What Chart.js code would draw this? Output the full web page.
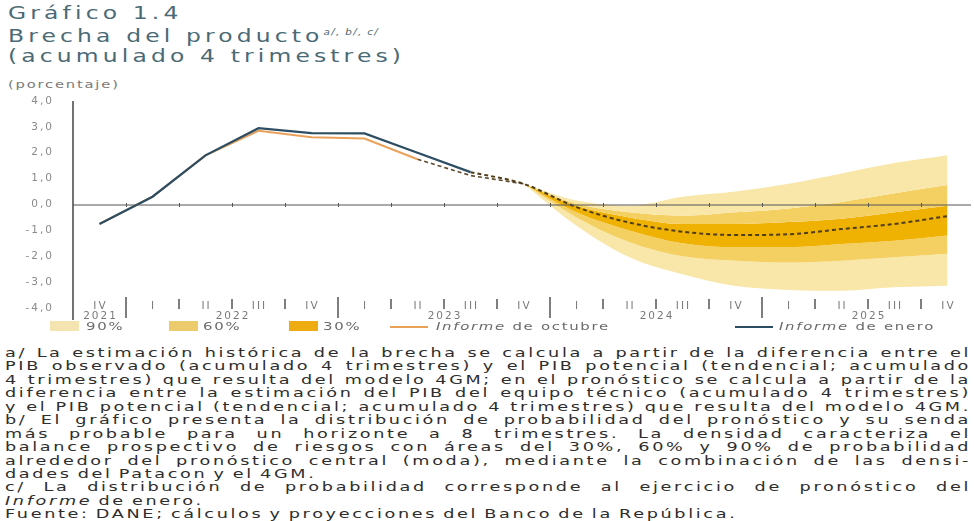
<!DOCTYPE html>
<html>
<head>
<meta charset="utf-8">
<script src="https://cdn.jsdelivr.net/npm/chart.js@4.4.1/dist/chart.umd.min.js"></script>
<style>
  html, body { margin: 0; padding: 0; background: #fff; }
  body { width: 974px; height: 521px; position: relative; overflow: hidden; font-family: "DejaVu Sans", sans-serif; }
  .title { position: absolute; left: 8px; top: 3px; color: #4a6a76; font-size: 18px; line-height: 20px; letter-spacing: 3.2px; transform: scaleX(1.3); transform-origin: 0 0; white-space: nowrap; }
  .title sup { font-size: 8px; font-style: italic; letter-spacing: 1px; vertical-align: 7px; }
  .unit { position: absolute; left: 8px; top: 78px; color: #7a7a7a; font-size: 10.5px; letter-spacing: 1.3px; transform: scaleX(1.4); transform-origin: 0 0; }
  #wrap { position: absolute; left: 0; top: 92px; width: 974px; height: 232px; }
  .leg { position: absolute; top: 319px; font-size: 10.5px; color: #6a6a6a; letter-spacing: 1.2px; line-height: 14px; transform: scaleX(1.42); transform-origin: 0 0; white-space: nowrap; }
  .sw { position: absolute; top: 321px; height: 10px; width: 29px; }
  .ln { position: absolute; top: 326px; height: 2px; width: 38px; }
  .notes { position: absolute; left: 5px; top: 346px; width: 690px; font-size: 12.6px; line-height: 13.45px; color: #2e2e2e; letter-spacing: 1.9px; word-spacing: -1.5px; transform: scaleX(1.4); transform-origin: 0 0; }
  .notes div { white-space: nowrap; }
  .notes .j { text-align: justify; text-align-last: justify; white-space: normal; height: 13.45px; overflow: hidden; }
</style>
</head>
<body>
<div class="title">Gráfico 1.4<br>Brecha del producto<sup>a/, b/, c/</sup><br>(acumulado 4 trimestres)</div>
<div class="unit">(porcentaje)</div>
<div id="wrap"><canvas id="myChart" width="974" height="232"></canvas></div>

<div class="sw" style="left:50px;background:#f4e5b0"></div><div class="leg" style="left:86px">90%</div>
<div class="sw" style="left:169px;background:#eccb6c"></div><div class="leg" style="left:203px">60%</div>
<div class="sw" style="left:289px;background:#eeab12"></div><div class="leg" style="left:323px">30%</div>
<div class="ln" style="left:390px;background:#e9a15a"></div><div class="leg" style="left:436px"><i>Informe</i> de octubre</div>
<div class="ln" style="left:735px;background:#2d4d63"></div><div class="leg" style="left:779px"><i>Informe</i> de enero</div>

<div class="notes">
  <div class="j">a/ La estimación histórica de la brecha se calcula a partir de la diferencia entre el</div>
  <div class="j">PIB observado (acumulado 4 trimestres) y el PIB potencial (tendencial; acumulado</div>
  <div class="j">4 trimestres) que resulta del modelo 4GM; en el pronóstico se calcula a partir de la</div>
  <div class="j">diferencia entre la estimación del PIB del equipo técnico (acumulado 4 trimestres)</div>
  <div class="j">y el PIB potencial (tendencial; acumulado 4 trimestres) que resulta del modelo 4GM.</div>
  <div class="j">b/ El gráfico presenta la distribución de probabilidad del pronóstico y su senda</div>
  <div class="j">más probable para un horizonte a 8 trimestres. La densidad caracteriza el</div>
  <div class="j">balance prospectivo de riesgos con áreas del 30%, 60% y 90% de probabilidad</div>
  <div class="j">alrededor del pronóstico central (moda), mediante la combinación de las densi-</div>
  <div>dades del Patacon y el 4GM.</div>
  <div class="j">c/ La distribución de probabilidad corresponde al ejercicio de pronóstico del</div>
  <div><i>Informe</i> de enero.</div>
  <div>Fuente: DANE; cálculos y proyecciones del Banco de la República.</div>
</div>

<script>
// quarters 2021 IV .. 2025 IV
var quarters = ['IV', 'I', 'II', 'III', 'IV', 'I', 'II', 'III', 'IV', 'I', 'II', 'III', 'IV', 'I', 'II', 'III', 'IV'];
var years = ['2021', '2022', '2022', '2022', '2022', '2023', '2023', '2023', '2023', '2024', '2024', '2024', '2024', '2025', '2025', '2025', '2025'];
var yTicks = [4, 3, 2, 1, 0, -1, -2, -3, -4];

var enero = [-0.75, 0.3, 1.9, 2.95, 2.76, 2.75, 2.0, 1.25, null, null, null, null, null, null, null, null, null];
var octubre = [-0.75, 0.3, 1.9, 2.85, 2.6, 2.55, 1.75, null, null, null, null, null, null, null, null, null, null];
var octubreProy = [null, null, null, null, null, null, 1.75, 1.12, 0.8, null, null, null, null, null, null, null, null];
var moda = [null, null, null, null, null, null, null, 1.25, 0.8, -0.1, -0.7, -1.05, -1.18, -1.15, -0.95, -0.75, -0.45];

// fan chart bands
var sup90 = [null, null, null, null, null, null, null, null, 0.8, 0.15, -0.05, 0.3, 0.5, 0.8, 1.2, 1.6, 1.9];
var sup60 = [null, null, null, null, null, null, null, null, 0.8, 0.03, -0.3, -0.43, -0.3, -0.15, 0.1, 0.43, 0.75];
var sup30 = [null, null, null, null, null, null, null, null, 0.8, -0.05, -0.5, -0.75, -0.75, -0.68, -0.55, -0.3, -0.05];
var inf30 = [null, null, null, null, null, null, null, null, 0.8, -0.3, -1.0, -1.5, -1.65, -1.65, -1.53, -1.4, -1.2];
var inf60 = [null, null, null, null, null, null, null, null, 0.8, -0.5, -1.46, -2.0, -2.17, -2.24, -2.17, -2.04, -1.9];
var inf90 = [null, null, null, null, null, null, null, null, 0.8, -0.82, -2.04, -2.7, -3.15, -3.3, -3.33, -3.2, -3.14];

var c90 = '#f8e7a8', c60 = '#f4cf62', c30 = '#efb102';

function band(data, color) {
    return {
        data: data,
        borderWidth: 0,
        pointRadius: 0,
        backgroundColor: color,
        fill: color ? '-1' : false,
        cubicInterpolationMode: 'monotone',
        order: 5
    };
}

var ejes = {
    id: 'ejes',
    afterDatasetsDraw: function (chart) {
        var ctx = chart.ctx, a = chart.chartArea, x = chart.scales.x, y = chart.scales.y;
        var y0 = y.getPixelForValue(0);
        ctx.save();
        ctx.strokeStyle = '#555';
        ctx.lineWidth = 1;
        ctx.beginPath();
        ctx.moveTo(a.left, y0 + 0.5);
        ctx.lineTo(a.right - 3, y0 + 0.5);
        ctx.stroke();
        for (var i = 0; i < quarters.length - 1; i++) {
            var bx = Math.round((x.getPixelForValue(i) + x.getPixelForValue(i + 1)) / 2) + 0.5;
            ctx.beginPath();
            ctx.moveTo(bx, y0 - 1.5);
            ctx.lineTo(bx, y0 + 2.5);
            ctx.stroke();
        }
        ctx.restore();
    },
    afterDraw: function (chart) {
        var ctx = chart.ctx, a = chart.chartArea, x = chart.scales.x, y = chart.scales.y;
        ctx.save();
        // eje vertical
        ctx.strokeStyle = '#444';
        ctx.lineWidth = 1.5;
        ctx.beginPath();
        ctx.moveTo(a.left, y.getPixelForValue(4));
        ctx.lineTo(a.left, a.bottom + 12);
        ctx.stroke();
        // etiquetas eje y
        ctx.font = '10.5px "DejaVu Sans"';
        ctx.letterSpacing = '2px';
        ctx.fillStyle = '#8a8a8a';
        ctx.textAlign = 'right';
        ctx.textBaseline = 'middle';
        yTicks.forEach(function (v) {
            ctx.fillText(v.toFixed(1).replace('.', ','), 54, y.getPixelForValue(v));
        });
        // trimestres
        ctx.textAlign = 'center';
        ctx.fillStyle = '#7a7a7a';
        var ly = a.bottom - 2;
        quarters.forEach(function (q, i) {
            ctx.fillText(q, x.getPixelForValue(i) + 1, ly);
        });
        // separadores
        ctx.strokeStyle = '#555';
        ctx.lineWidth = 1.5;
        for (var i = 0; i < quarters.length - 1; i++) {
            var bx = Math.round((x.getPixelForValue(i) + x.getPixelForValue(i + 1)) / 2);
            var mayor = years[i] !== years[i + 1];
            ctx.beginPath();
            ctx.moveTo(bx, ly - (mayor ? 9 : 7));
            ctx.lineTo(bx, ly + (mayor ? 12 : 3));
            ctx.stroke();
        }
        // años
        var grupos = {};
        years.forEach(function (yr, i) {
            if (!grupos[yr]) grupos[yr] = [];
            grupos[yr].push(x.getPixelForValue(i));
        });
        Object.keys(grupos).forEach(function (yr) {
            var p = grupos[yr];
            ctx.fillText(yr, (p[0] + p[p.length - 1]) / 2 + 1, ly + 10);
        });
        ctx.restore();
    }
};

var ctx = document.getElementById('myChart').getContext('2d');
var myChart = new Chart(ctx, {
    type: 'line',
    data: {
        labels: quarters,
        datasets: [
            band(sup90, null),
            band(sup60, c90),
            band(sup30, c60),
            band(inf30, c30),
            band(inf60, c60),
            band(inf90, c90),
            { label: 'Informe de enero', data: enero, borderColor: '#2d4d63', borderWidth: 2.2, pointRadius: 0, order: 0 },
            { label: 'Informe de octubre', data: octubre, borderColor: '#e9a15a', borderWidth: 2, pointRadius: 0, order: 1 },
            { label: 'octubre proy', data: octubreProy, borderColor: '#5d4a2a', borderWidth: 1.6, borderDash: [4, 3], pointRadius: 0, order: 1 },
            { label: 'moda', data: moda, borderColor: '#4f3d1c', borderWidth: 2, borderDash: [4, 3], pointRadius: 0, cubicInterpolationMode: 'monotone', order: 0 }
        ]
    },
    options: {
        responsive: false,
        animation: false,
        devicePixelRatio: 1,
        layout: { padding: { left: 73, right: 0, top: 9, bottom: 16 } },
        plugins: { legend: { display: false }, tooltip: { enabled: false } },
        scales: {
            x: { display: false, offset: true },
            y: { display: false, min: -4, max: 4 }
        }
    },
    plugins: [ejes]
});
</script>
</body>
</html>
